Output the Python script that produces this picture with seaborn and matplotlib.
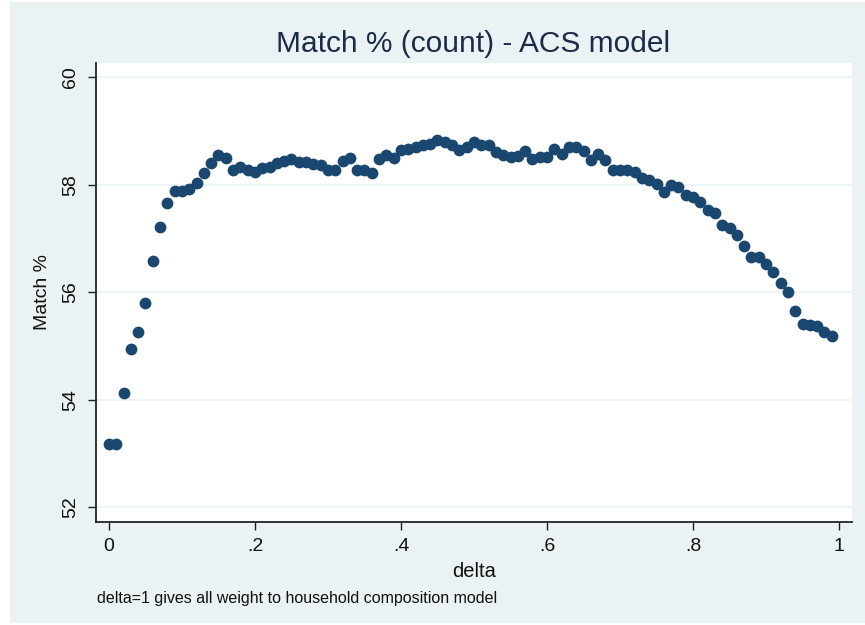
import matplotlib
matplotlib.use("Agg")
import matplotlib.pyplot as plt
import seaborn as sns
import pandas as pd
from matplotlib.patches import Rectangle

delta = [0.00, 0.01, 0.02, 0.03, 0.04, 0.05, 0.06, 0.07, 0.08, 0.09,
         0.10, 0.11, 0.12, 0.13, 0.14, 0.15, 0.16, 0.17, 0.18, 0.19,
         0.20, 0.21, 0.22, 0.23, 0.24, 0.25, 0.26, 0.27, 0.28, 0.29,
         0.30, 0.31, 0.32, 0.33, 0.34, 0.35, 0.36, 0.37, 0.38, 0.39,
         0.40, 0.41, 0.42, 0.43, 0.44, 0.45, 0.46, 0.47, 0.48, 0.49,
         0.50, 0.51, 0.52, 0.53, 0.54, 0.55, 0.56, 0.57, 0.58, 0.59,
         0.60, 0.61, 0.62, 0.63, 0.64, 0.65, 0.66, 0.67, 0.68, 0.69,
         0.70, 0.71, 0.72, 0.73, 0.74, 0.75, 0.76, 0.77, 0.78, 0.79,
         0.80, 0.81, 0.82, 0.83, 0.84, 0.85, 0.86, 0.87, 0.88, 0.89,
         0.90, 0.91, 0.92, 0.93, 0.94, 0.95, 0.96, 0.97, 0.98, 0.99]

match_pct = [53.17, 53.17, 54.13, 54.95, 55.26, 55.79, 56.58, 57.22, 57.66, 57.88,
             57.88, 57.92, 58.04, 58.22, 58.41, 58.55, 58.49, 58.27, 58.33, 58.27,
             58.24, 58.32, 58.33, 58.41, 58.44, 58.48, 58.43, 58.42, 58.39, 58.36,
             58.28, 58.28, 58.44, 58.49, 58.27, 58.27, 58.21, 58.47, 58.55, 58.49,
             58.64, 58.67, 58.70, 58.73, 58.75, 58.83, 58.80, 58.73, 58.65, 58.71,
             58.80, 58.73, 58.73, 58.61, 58.55, 58.52, 58.53, 58.63, 58.47, 58.51,
             58.51, 58.67, 58.58, 58.70, 58.70, 58.63, 58.46, 58.58, 58.46, 58.28,
             58.27, 58.27, 58.24, 58.13, 58.08, 58.02, 57.87, 57.99, 57.96, 57.80,
             57.77, 57.68, 57.53, 57.48, 57.25, 57.20, 57.07, 56.86, 56.65, 56.65,
             56.53, 56.38, 56.17, 56.01, 55.65, 55.40, 55.39, 55.37, 55.26, 55.18]

x_ticks = [0, 0.2, 0.4, 0.6, 0.8, 1.0]
x_tick_labels = ["0", ".2", ".4", ".6", ".8", "1"]
y_ticks = [52, 54, 56, 58, 60]
y_tick_labels = ["52", "54", "56", "58", "60"]

title = "Match % (count) - ACS model"
x_label = "delta"
y_label = "Match %"
note = "delta=1 gives all weight to household composition model"

df = pd.DataFrame({"delta": delta, "match": match_pct})

sns.set_style("white")
plt.rcParams["font.family"] = ["Liberation Sans", "DejaVu Sans"]

W, H = 865, 625
fig = plt.figure(figsize=(W / 100, H / 100), dpi=100)
fig.patch.set_facecolor("white")
region_col = "#EAF2F3"
fig.patches.append(Rectangle((10 / W, 1 - 623 / H), (865 - 10) / W, (623 - 2) / H,
                             transform=fig.transFigure, facecolor=region_col,
                             edgecolor="none", zorder=-10))

ax = fig.add_axes([96 / W, 1 - 521.7 / H, (852 - 96) / W, (521.7 - 62.7) / H])
ax.set_zorder(5)
ax.set_facecolor("white")

for yt in y_ticks:
    ax.axhline(yt, color=region_col, lw=1.2, zorder=1)

sns.scatterplot(data=df, x="delta", y="match", ax=ax, color="#1A476F",
                s=72, edgecolor="#1A476F", linewidth=0, marker="o", zorder=3,
                legend=False)

ax.set_xlim(-0.0178, 1.0178)
ax.set_ylim(51.73, 60.27)
ax.set_xticks(x_ticks)
ax.set_xticklabels(x_tick_labels)
ax.set_yticks(y_ticks)
ax.set_yticklabels(y_tick_labels, rotation=90, va="center")

for s in ["top", "right"]:
    ax.spines[s].set_visible(False)
for s in ["left", "bottom"]:
    ax.spines[s].set_color("#222222")
    ax.spines[s].set_linewidth(1.3)

ax.tick_params(axis="both", which="major", direction="out", length=6, width=1,
               color="#222222", labelsize=14, labelcolor="#111111", pad=6,
               left=True, bottom=True)

ax.set_xlabel(x_label, fontsize=14.5, color="#111111", labelpad=5)
ax.set_ylabel(y_label, fontsize=14, color="#111111", labelpad=8)

fig.text(473 / W, 1 - 44 / H, title, ha="center", va="center",
         fontsize=21.5, color="#1C2B4A")
fig.text(97 / W, 1 - 598 / H, note, ha="left", va="center",
         fontsize=11.5, color="#111111")

fig.savefig("out.png", dpi=100, facecolor=fig.get_facecolor())
